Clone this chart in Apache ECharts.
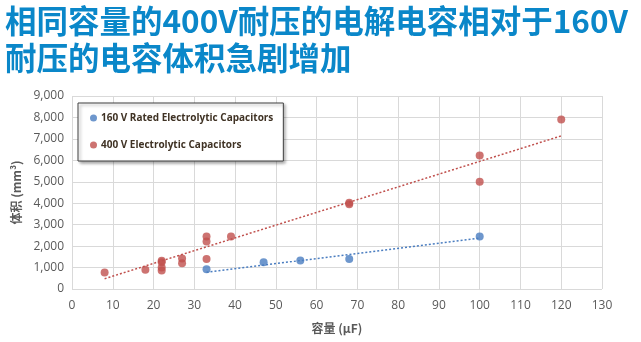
<!DOCTYPE html>
<html><head><meta charset="utf-8">
<script src="https://cdn.jsdelivr.net/npm/echarts@6/dist/echarts.min.js"></script>
<style>
html,body{margin:0;padding:0;background:#fff;}
#title{position:absolute;left:5px;top:1px;font-family:"Noto Sans CJK SC",sans-serif;font-weight:bold;font-size:31.5px;line-height:37px;color:#0a87c9;white-space:nowrap;}
#chart{position:absolute;left:0;top:0;width:641px;height:342px;}
</style></head>
<body>
<div id="chart"></div>
<div id="title">相同容量的400V耐压的电解电容相对于160V<br>耐压的电容体积急剧增加</div>
<script>
const seriesNames = ['160 V Rated Electrolytic Capacitors', '400 V Electrolytic Capacitors'];
const cap160 = [33, 47, 56, 68, 100];
const vol160 = [920, 1250, 1330, 1400, 2450];
const cap400 = [8, 18, 22, 22, 22, 22, 27, 27, 33, 33, 33, 39, 68, 68, 100, 100, 120];
const vol400 = [770, 900, 1320, 1250, 1000, 860, 1420, 1200, 2450, 2220, 1400, 2450, 4020, 3950, 6220, 5000, 7900];
const trend160X = [33, 100];
const trend160Y = [780, 2370];
const trend400X = [8, 120];
const trend400Y = [480, 7140];
const xTicks = {min: 0, max: 130, interval: 10};
const yTicks = {min: 0, max: 9000, interval: 1000};

const pair = (xs, ys) => xs.map((x, i) => [x, ys[i]]);
const blue = '#4a7dc0', red = '#c0504d';
const chart = echarts.init(document.getElementById('chart'));
chart.setOption({
  animation: false,
  grid: {left: 72, right: 39, top: 96, bottom: 53},
  legend: {
    data: seriesNames, orient: 'vertical', left: 78, top: 103,
    padding: [10, 10, 11, 12], itemGap: 17,
    backgroundColor: '#fff', borderColor: '#404040', borderWidth: 1,
    shadowColor: 'rgba(0,0,0,0.35)', shadowBlur: 3, shadowOffsetX: 2, shadowOffsetY: 2,
    icon: 'circle', itemWidth: 7, itemHeight: 7,
    textStyle: {fontFamily: '"Open Sans", sans-serif', fontWeight: 'bold', fontSize: 10, color: '#3f3224', padding: [0, 0, 0, -1]}
  },
  xAxis: {
    type: 'value', min: xTicks.min, max: xTicks.max, interval: xTicks.interval,
    name: '容量 (μF)', nameLocation: 'middle', nameGap: 33,
    nameTextStyle: {fontFamily: '"Noto Sans CJK SC", sans-serif', fontWeight: 'bold', fontSize: 12, color: '#595959'},
    axisLine: {show: false}, axisTick: {show: false},
    axisLabel: {margin: 11, fontSize: 12, color: '#595959', fontFamily: '"Open Sans", sans-serif'},
    splitLine: {show: true, lineStyle: {color: '#d9d9d9'}}
  },
  yAxis: {
    type: 'value', min: yTicks.min, max: yTicks.max, interval: yTicks.interval,
    name: '体积 (mm³)', nameLocation: 'middle', nameGap: 44, nameRotate: 90,
    nameTextStyle: {fontFamily: '"Noto Sans CJK SC", sans-serif', fontWeight: 'bold', fontSize: 12, color: '#595959'},
    axisLine: {show: false}, axisTick: {show: false},
    axisLabel: {margin: 8, fontSize: 12, color: '#595959', fontFamily: '"Open Sans", sans-serif',
      formatter: v => v.toLocaleString('en-US')},
    splitLine: {show: true, lineStyle: {color: '#d9d9d9'}}
  },
  series: [
    {name: seriesNames[0], type: 'scatter', symbolSize: 8, itemStyle: {color: blue}, data: pair(cap160, vol160), z: 3},
    {name: seriesNames[1], type: 'scatter', symbolSize: 8, itemStyle: {color: red}, data: pair(cap400, vol400), z: 3},
    {type: 'line', symbol: 'none', lineStyle: {color: blue, width: 1.5, type: [2, 2]}, data: pair(trend160X, trend160Y), z: 2},
    {type: 'line', symbol: 'none', lineStyle: {color: red, width: 1.5, type: [2, 2]}, data: pair(trend400X, trend400Y), z: 2}
  ]
});
</script>
</body></html>
